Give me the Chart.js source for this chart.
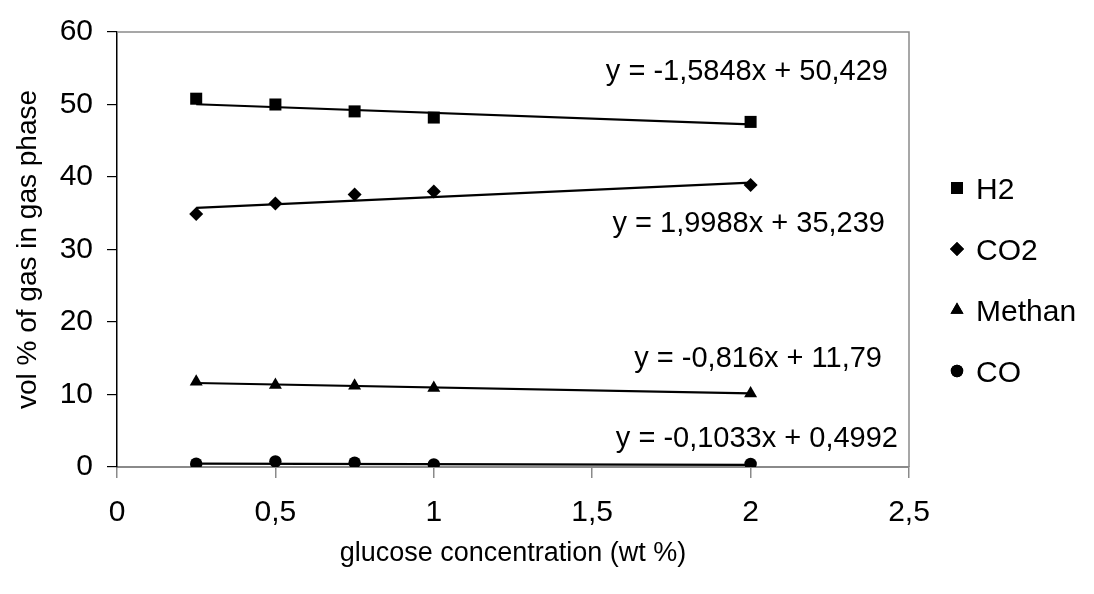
<!DOCTYPE html>
<html><head><meta charset="utf-8">
<script src="https://cdn.jsdelivr.net/npm/chart.js@4"></script>
<style>html,body{margin:0;padding:0;background:#fff}#wrap{width:1094px;height:594px;position:relative}</style>
</head><body><div id="wrap"><canvas id="c"></canvas></div>
<script>
const concentrations = [0.25, 0.5, 0.75, 1, 2];
const h2 = [50.8, 50.0, 49.05, 48.2, 47.6];
const co2 = [34.9, 36.35, 37.6, 38.0, 38.9];
const methan = [11.75, 11.3, 11.2, 10.9, 10.15];
const co = [0.45, 0.76, 0.59, 0.35, 0.42];
const seriesNames = ['H2', 'CO2', 'Methan', 'CO'];
const trendSlopes = [-1.5848, 1.9988, -0.816, -0.1033];
const trendIntercepts = [50.429, 35.239, 11.79, 0.4992];
const trendLabels = ['y = -1,5848x + 50,429', 'y = 1,9988x + 35,239', 'y = -0,816x + 11,79', 'y = -0,1033x + 0,4992'];
const xTickLabels = ['0', '0,5', '1', '1,5', '2', '2,5'];
const yTickLabels = ['0', '10', '20', '30', '40', '50', '60'];
const xTitle = 'glucose concentration (wt %)';
const yTitle = 'vol % of gas in gas phase';

const FONT = "'Liberation Sans', Arial, sans-serif";
const seriesValues = [h2, co2, methan, co];
const styles = [
  {pointStyle: 'rect', radius: 8.5},
  {pointStyle: 'rectRot', radius: 7},
  {pointStyle: 'triangle', radius: 7.5},
  {pointStyle: 'circle', radius: 6.2}
];

const pointSets = seriesNames.map((name, i) => ({
  label: name,
  data: concentrations.map((x, j) => ({x: x, y: seriesValues[i][j]})),
  showLine: false,
  pointStyle: styles[i].pointStyle,
  pointRadius: styles[i].radius,
  pointBackgroundColor: '#000',
  pointBorderWidth: 0,
  borderColor: '#000'
}));
const xFirst = concentrations[0], xLast = concentrations[concentrations.length - 1];
const trendSets = seriesNames.map((name, i) => ({
  label: name + ' trend',
  data: [xFirst, xLast].map(x => ({x: x, y: trendSlopes[i] * x + trendIntercepts[i]})),
  showLine: true,
  borderColor: '#000',
  borderWidth: 2.2,
  pointRadius: 0
}));

const labelPos = [[888, 80], [885, 232], [882, 367], [898, 447]];
const legendRows = [199, 260, 321, 382];

const decor = {
  id: 'decor',
  beforeDatasetsDraw(chart) {
    const {ctx, chartArea: a} = chart;
    ctx.save();
    ctx.strokeStyle = '#8a8a8a';
    ctx.lineWidth = 1.5;
    ctx.beginPath();
    ctx.moveTo(a.left, a.top); ctx.lineTo(a.right, a.top); ctx.lineTo(a.right, a.bottom);
    ctx.stroke();
    ctx.restore();
  },
  afterDraw(chart) {
    const {ctx} = chart;
    ctx.save();
    ctx.fillStyle = '#000';
    ctx.font = '29px ' + FONT;
    ctx.textAlign = 'right';
    ctx.textBaseline = 'alphabetic';
    trendLabels.forEach((t, i) => ctx.fillText(t, labelPos[i][0], labelPos[i][1]));
    ctx.font = '30px ' + FONT;
    ctx.textAlign = 'left';
    seriesNames.forEach((n, i) => {
      const base = legendRows[i];
      ctx.fillText(n, 976, base);
      Chart.helpers.drawPoint(ctx, {pointStyle: styles[i].pointStyle, radius: styles[i].radius, borderWidth: 0, rotation: 0}, 957, base - 11);
      ctx.fillStyle = '#000';
      ctx.fill();
    });
    ctx.restore();
  }
};

new Chart(document.getElementById('c'), {
  type: 'scatter',
  data: {datasets: pointSets.concat(trendSets)},
  options: {
    responsive: true,
    maintainAspectRatio: false,
    animation: false,
    events: [],
    layout: {padding: {top: 23, right: 185, left: 0, bottom: 0}},
    plugins: {legend: {display: false}, tooltip: {enabled: false}},
    scales: {
      x: {
        type: 'linear', min: 0, max: 2.5,
        afterFit: s => { s.height = 127; },
        afterBuildTicks: s => { s.ticks = xTickLabels.map((t, i) => ({value: i * 0.5})); },
        ticks: {stepSize: 0.5, color: '#000', font: {size: 30, family: FONT}, padding: 17,
          callback: (v, i) => xTickLabels[i], maxRotation: 0, autoSkip: false},
        grid: {drawOnChartArea: false, drawTicks: true, tickLength: 11, color: '#8a8a8a', lineWidth: 1.5},
        border: {display: true, color: '#8a8a8a', width: 2},
        title: {display: true, text: xTitle, color: '#000', font: {size: 27, family: FONT}, padding: {top: 0, bottom: 24}}
      },
      y: {
        type: 'linear', min: 0, max: 60,
        afterFit: s => { s.width = 117; },
        afterBuildTicks: s => { s.ticks = yTickLabels.map((t, i) => ({value: i * 10})); },
        ticks: {stepSize: 10, color: '#000', font: {size: 30, family: FONT}, padding: 14,
          callback: (v, i) => yTickLabels[i], autoSkip: false},
        grid: {drawOnChartArea: false, drawTicks: true, tickLength: 10, color: '#000', lineWidth: 1.2},
        border: {display: true, color: '#000', width: 1.5},
        title: {display: true, text: yTitle, color: '#000', font: {size: 28, family: FONT}, padding: {top: 11, bottom: 0}}
      }
    }
  },
  plugins: [decor]
});
</script></body></html>
